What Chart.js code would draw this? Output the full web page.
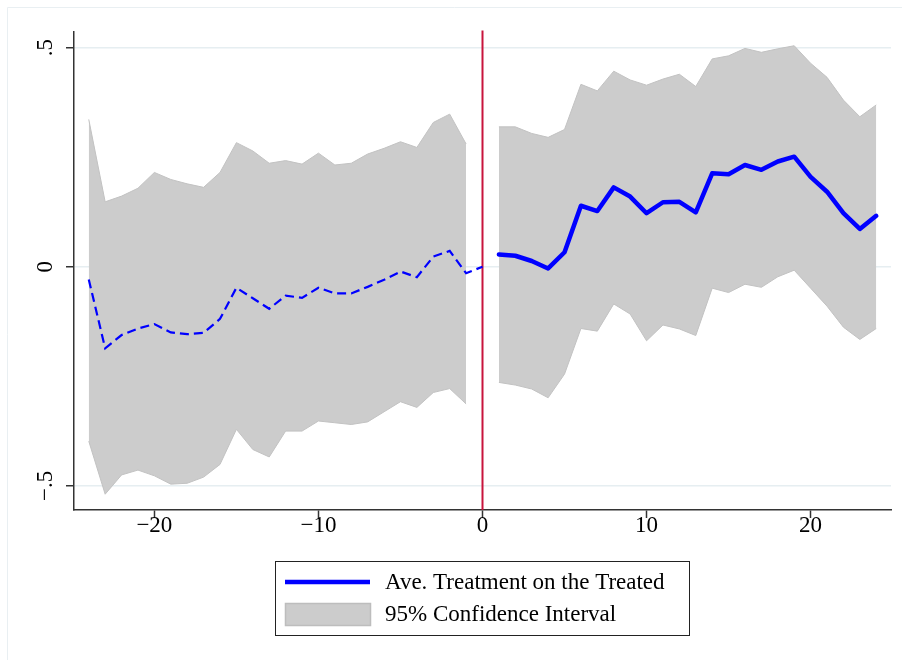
<!DOCTYPE html>
<html>
<head>
<meta charset="utf-8">
<script src="https://cdn.jsdelivr.net/npm/chart.js@4"></script>
<style>
  html, body { margin: 0; padding: 0; background: #fff; }
  #wrap { width: 902px; height: 660px; position: relative; }
</style>
</head>
<body>
<div id="wrap"><canvas id="att-chart" width="902" height="660"></canvas></div>
<script>
// periods relative to treatment
const prePeriods = [-24, -23, -22, -21, -20, -19, -18, -17, -16, -15, -14, -13, -12, -11, -10, -9, -8, -7, -6, -5, -4, -3, -2, -1];
const preEstimate = [-0.029, -0.186, -0.156, -0.141, -0.131, -0.150, -0.154, -0.151, -0.119, -0.048, -0.072, -0.096, -0.066, -0.071, -0.048, -0.061, -0.061, -0.046, -0.030, -0.011, -0.024, 0.023, 0.036, -0.015];
const preUpper = [0.336, 0.148, 0.161, 0.179, 0.215, 0.199, 0.189, 0.181, 0.215, 0.283, 0.264, 0.236, 0.242, 0.234, 0.259, 0.232, 0.236, 0.257, 0.270, 0.285, 0.272, 0.329, 0.348, 0.280];
const preLower = [-0.398, -0.519, -0.475, -0.464, -0.477, -0.496, -0.494, -0.480, -0.451, -0.371, -0.417, -0.434, -0.375, -0.375, -0.352, -0.356, -0.360, -0.354, -0.331, -0.308, -0.321, -0.287, -0.278, -0.313];

// the dashed pre-period line ends at the normalised point (0, 0)
const anchorPeriod = 0;
const anchorEstimate = 0;

const postPeriods = [1, 2, 3, 4, 5, 6, 7, 8, 9, 10, 11, 12, 13, 14, 15, 16, 17, 18, 19, 20, 21, 22, 23, 24];
const postEstimate = [0.028, 0.025, 0.013, -0.004, 0.033, 0.139, 0.127, 0.181, 0.160, 0.122, 0.147, 0.148, 0.124, 0.213, 0.211, 0.232, 0.221, 0.240, 0.251, 0.205, 0.171, 0.122, 0.086, 0.116];
const postUpper = [0.319, 0.319, 0.304, 0.295, 0.313, 0.416, 0.401, 0.446, 0.426, 0.414, 0.428, 0.439, 0.411, 0.474, 0.481, 0.498, 0.489, 0.497, 0.504, 0.464, 0.432, 0.380, 0.342, 0.369];
const postLower = [-0.264, -0.270, -0.279, -0.299, -0.245, -0.141, -0.147, -0.085, -0.108, -0.169, -0.133, -0.142, -0.157, -0.049, -0.059, -0.040, -0.047, -0.023, -0.008, -0.049, -0.090, -0.138, -0.166, -0.141];

const xTicks = [-20, -10, 0, 10, 20];
const xTickLabels = ["\u221220", "\u221210", "0", "10", "20"];
const yTicks = [-0.5, 0, 0.5];
const yTickLabels = ["\u2212.5", "0", ".5"];

const legendLabels = ["Ave. Treatment on the Treated", "95% Confidence Interval"];

const SERIF = '"Liberation Serif", "Times New Roman", serif';
const BAND_FILL = "#cccccc";
const BAND_EDGE = "#c2c2c2";
const ATT_BLUE = "#0000ff";
const EVENT_RED = "#c8143c";

function pts(xs, ys) {
  return xs.map((x, i) => ({ x, y: ys[i] }));
}

const preLine = pts(prePeriods, preEstimate).concat([{ x: anchorPeriod, y: anchorEstimate }]);

// frame + event line + rotated y labels + boxed legend
const stataDecor = {
  id: "stataDecor",
  beforeDraw(chart) {
    const ctx = chart.ctx;
    ctx.save();
    ctx.strokeStyle = "#e9eff2";
    ctx.lineWidth = 1;
    ctx.beginPath();
    ctx.moveTo(7.5, 902);
    ctx.lineTo(7.5, 7.5);
    ctx.lineTo(902, 7.5);
    ctx.stroke();
    ctx.restore();
  },
  beforeDatasetsDraw(chart) {
    const { ctx, chartArea, scales } = chart;
    const x0 = scales.x.getPixelForValue(0);
    ctx.save();
    ctx.strokeStyle = EVENT_RED;
    ctx.lineWidth = 2;
    ctx.beginPath();
    ctx.moveTo(x0, chartArea.top - 1);
    ctx.lineTo(x0, chartArea.bottom);
    ctx.stroke();
    ctx.restore();
  },
  afterDraw(chart) {
    const { ctx, scales } = chart;
    ctx.save();
    ctx.fillStyle = "#000";
    ctx.font = "23px " + SERIF;
    ctx.textAlign = "center";
    ctx.textBaseline = "middle";
    yTicks.forEach((v, i) => {
      const py = scales.y.getPixelForValue(v);
      ctx.save();
      ctx.translate(46, py);
      ctx.rotate(-Math.PI / 2);
      ctx.fillText(yTickLabels[i], 0, 0);
      ctx.restore();
    });

    // legend box
    ctx.strokeStyle = "#222";
    ctx.lineWidth = 1;
    ctx.strokeRect(275.5, 561.5, 414, 74);
    ctx.strokeStyle = ATT_BLUE;
    ctx.lineWidth = 4.5;
    ctx.beginPath();
    ctx.moveTo(285, 582);
    ctx.lineTo(370, 582);
    ctx.stroke();
    ctx.fillStyle = BAND_FILL;
    ctx.fillRect(285, 603, 86, 23);
    ctx.strokeStyle = "#bdbdbd";
    ctx.lineWidth = 1.5;
    ctx.strokeRect(285.5, 603.5, 85, 22);
    ctx.fillStyle = "#000";
    ctx.textAlign = "left";
    ctx.textBaseline = "middle";
    ctx.fillText(legendLabels[0], 385, 583);
    ctx.fillText(legendLabels[1], 385, 615);
    ctx.restore();
  },
};

const bandStyle = {
  backgroundColor: BAND_FILL,
  borderColor: BAND_EDGE,
  borderWidth: 1,
  pointRadius: 0,
  tension: 0,
};

new Chart(document.getElementById("att-chart"), {
  type: "line",
  data: {
    datasets: [
      { ...bandStyle, label: "pre upper", data: pts(prePeriods, preUpper), fill: "+1", order: 5 },
      { ...bandStyle, label: "pre lower", data: pts(prePeriods, preLower), fill: false, order: 4 },
      { ...bandStyle, label: "post upper", data: pts(postPeriods, postUpper), fill: "+1", order: 3 },
      { ...bandStyle, label: "post lower", data: pts(postPeriods, postLower), fill: false, order: 2 },
      {
        label: "pre ATT",
        data: preLine,
        borderColor: ATT_BLUE,
        borderWidth: 2.2,
        borderDash: [9, 5],
        pointRadius: 0,
        fill: false,
        tension: 0,
        order: 1,
      },
      {
        label: legendLabels[0],
        data: pts(postPeriods, postEstimate),
        borderColor: ATT_BLUE,
        borderWidth: 4.5,
        borderJoinStyle: "round",
        borderCapStyle: "round",
        pointRadius: 0,
        fill: false,
        tension: 0,
        order: 0,
      },
    ],
  },
  options: {
    responsive: false,
    animation: false,
    events: [],
    layout: { padding: { left: 0, top: 31.5, right: 11, bottom: 0 } },
    plugins: {
      legend: { display: false },
      tooltip: { enabled: false },
    },
    scales: {
      x: {
        type: "linear",
        min: -24.9,
        max: 24.9,
        afterBuildTicks: (s) => { s.ticks = xTicks.map((v) => ({ value: v })); },
        afterFit: (s) => { s.height = 150; },
        border: { color: "#333", width: 1.5 },
        grid: { drawOnChartArea: false, drawTicks: true, tickLength: 8, tickColor: "#333", tickWidth: 1.5 },
        ticks: {
          color: "#000",
          font: { family: SERIF, size: 23 },
          padding: -6,
          maxRotation: 0,
          callback: (v) => xTickLabels[xTicks.indexOf(v)],
        },
      },
      y: {
        type: "linear",
        min: -0.555,
        max: 0.5365,
        afterBuildTicks: (s) => { s.ticks = yTicks.map((v) => ({ value: v })); },
        afterFit: (s) => { s.width = 74; },
        border: { color: "#333", width: 1.5 },
        grid: { color: "#e6eef1", lineWidth: 1.5, drawTicks: true, tickLength: 8, tickColor: "#333", tickWidth: 1.5 },
        ticks: { display: false },
      },
    },
  },
  plugins: [stataDecor],
});
</script>
</body>
</html>
